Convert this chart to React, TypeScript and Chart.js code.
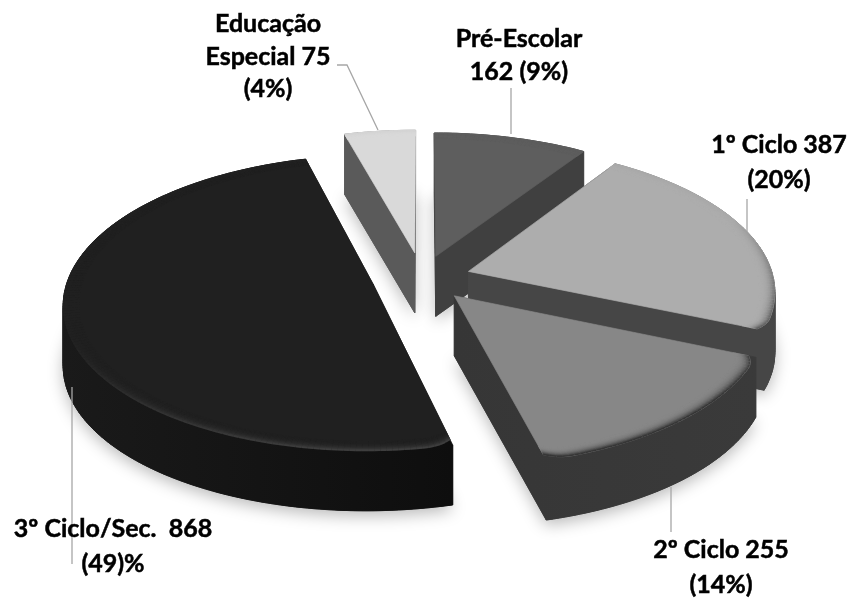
import React, { useEffect, useRef } from "react";
import { Chart, registerables } from "chart.js";

Chart.register(...registerables);

// Enrolment by teaching level
const categories = ["Pré-Escolar", "1º Ciclo", "2º Ciclo", "3º Ciclo/Sec.", "Educação Especial"];
const enrolment = [162, 387, 255, 868, 75];
const labelLines = [
  ["Pré-Escolar", "162 (9%)"],
  ["1º Ciclo 387", "(20%)"],
  ["2º Ciclo 255", "(14%)"],
  ["3º Ciclo/Sec.  868", "(49)%"],
  ["Educação", "Especial 75", "(4%)"],
];

// Slice styling
const topColors = ["#5e5e5e", "#adadad", "#878787", "#202020", "#d9d9d9"];
const wallLeft = ["#404040", "#464646", "#363636", "#1a1a1a", "#5a5a5a"];
const wallRight = ["#404040", "#464646", "#3a3a3a", "#0e0e0e", "#5a5a5a"];
const rimColors = ["#404040", "#505050", "#363636", "#3e3e3e", "#5a5a5a"];
const explosion = [0.16, 0.16, 0.16, 0.165, 0.18];

// Label placement: centre x, first baseline y, line spacing
const labelAnchors = [
  [519, 47, 33],
  [779, 153, 35],
  [721, 558, 35],
  [113, 537, 35],
  [268, 32, 32.5],
];
const leaders = [
  [[511, 88], [511, 134]],
  [[747, 199], [747, 231]],
  [[671, 487], [671, 532]],
  [[72, 387], [72, 564]],
  [[337, 65], [347, 65], [378, 130]],
];

// Tilted-disc projection
const X_STRETCH = 1.097;
const Y_SQUASH = 0.518;
const PERSPECTIVE = 0.126;
const DEPTH = 60;
const BEVEL = 0.05;
const BEVEL_STEPS = 12;
const CORNER_INSET = 0.028;
const CORNER_SPAN = 0.08;
const FONT = "bold 25px Lato";

type Pt = [number, number];

function hexToRgb(hex: string) {
  return [1, 3, 5].map((i) => parseInt(hex.slice(i, i + 2), 16));
}
function mix(a: string, b: string, t: number) {
  const ca = hexToRgb(a);
  const cb = hexToRgb(b);
  const c = ca.map((v, i) => Math.round(v + (cb[i] - v) * t));
  return `rgb(${c[0]},${c[1]},${c[2]})`;
}
// How much a rim position faces the viewer, 0 to 1
const facing = (a: number) => Math.max(0.04, Math.min(1, 0.05 + Math.sin(a) + 0.4 * Math.cos(a)));

const pie3d = {
  id: "pie3d",
  beforeDatasetDraw(chart: any) {
    const ctx: CanvasRenderingContext2D = chart.ctx;
    const arcs: any[] = chart.getDatasetMeta(0).data;
    const project = (arc: any, i: number, angle: number, r: number): Pt => {
      const mid = (arc.startAngle + arc.endAngle) / 2;
      const u = Math.cos(mid) * explosion[i] + Math.cos(angle) * r;
      const v = Math.sin(mid) * explosion[i] + Math.sin(angle) * r;
      const w = 1 / (1 - PERSPECTIVE * v);
      const R = arc.outerRadius;
      return [arc.x + R * X_STRETCH * u * w, arc.y + R * Y_SQUASH * v * w];
    };
    const rimAngles = (arc: any) => {
      const n = Math.max(2, Math.ceil(((arc.endAngle - arc.startAngle) * 180) / Math.PI));
      return Array.from({ length: n + 1 }, (_, k) => arc.startAngle + ((arc.endAngle - arc.startAngle) * k) / n);
    };
    // The top face pulls in at the rim's ends, rounding its corners over the wall
    const topRadius = (arc: any, a: number) => {
      const d = Math.min(a - arc.startAngle, arc.endAngle - a);
      const t = Math.max(0, 1 - d / CORNER_SPAN);
      return 1 - CORNER_INSET * t * t * facing(a);
    };
    const outline = (arc: any, i: number): Pt[] => [
      project(arc, i, 0, 0),
      ...rimAngles(arc).map((a) => project(arc, i, a, 1)),
    ];
    const topFace = (arc: any, i: number): Pt[] => [
      project(arc, i, 0, 0),
      ...rimAngles(arc).map((a) => project(arc, i, a, topRadius(arc, a))),
    ];
    const fillPoly = (pts: Pt[], style: any, edge = true) => {
      ctx.beginPath();
      pts.forEach((p, k) => (k ? ctx.lineTo(p[0], p[1]) : ctx.moveTo(p[0], p[1])));
      ctx.closePath();
      ctx.fillStyle = style;
      ctx.fill();
      if (edge) {
        ctx.strokeStyle = style;
        ctx.lineWidth = 0.7;
        ctx.stroke();
      }
    };
    const lowered = (pts: Pt[]): Pt[] => pts.map((p) => [p[0], p[1] + DEPTH]);

    ctx.save();
    ctx.lineJoin = "round";

    // Soft ground shadow beneath the whole exploded pie
    ctx.save();
    ctx.shadowColor = "rgba(0,0,0,0.28)";
    ctx.shadowBlur = 16;
    ctx.shadowOffsetY = 5;
    arcs.forEach((arc, i) => fillPoly(lowered(outline(arc, i)), "#888888", false));
    ctx.restore();

    // Paint slices from the far side to the near side
    const order = arcs
      .map((arc, i) => ({ arc, i, depth: Math.sin((arc.startAngle + arc.endAngle) / 2) }))
      .sort((a, b) => a.depth - b.depth);

    order.forEach(({ arc, i }) => {
      const rim = outline(arc, i);
      const xs = rim.map((p) => p[0]);
      const grad = ctx.createLinearGradient(Math.min(...xs), 0, Math.max(...xs), 0);
      grad.addColorStop(0, wallLeft[i]);
      grad.addColorStop(1, wallRight[i]);

      // Extruded walls
      fillPoly(lowered(rim), grad);
      rim.forEach((p, k) => {
        const q = rim[(k + 1) % rim.length];
        fillPoly([p, q, [q[0], q[1] + DEPTH], [p[0], p[1] + DEPTH]], grad);
      });

      // Top face
      fillPoly(topFace(arc, i), topColors[i]);

      // Bevelled rim, strongest on the side facing the viewer
      const angles = rimAngles(arc);
      for (let j = BEVEL_STEPS - 1; j >= 0; j--) {
        const r = -(BEVEL * (j + 0.5)) / BEVEL_STEPS;
        const fade = 1 - j / BEVEL_STEPS;
        for (let k = 0; k < angles.length - 1; k++) {
          const a = (angles[k] + angles[k + 1]) / 2;
          const p = project(arc, i, angles[k], topRadius(arc, angles[k]) + r);
          const q = project(arc, i, angles[k + 1], topRadius(arc, angles[k + 1]) + r);
          ctx.beginPath();
          ctx.moveTo(p[0], p[1]);
          ctx.lineTo(q[0], q[1]);
          ctx.strokeStyle = mix(topColors[i], rimColors[i], facing(a) * fade * fade * fade);
          ctx.lineWidth = 1.6;
          ctx.stroke();
        }
      }
    });
    ctx.restore();
    return false;
  },
  afterDraw(chart: any) {
    const ctx: CanvasRenderingContext2D = chart.ctx;
    ctx.save();
    // Leader lines
    ctx.strokeStyle = "#a6a6a6";
    ctx.lineWidth = 1.3;
    leaders.forEach((line) => {
      ctx.beginPath();
      line.forEach((p, k) => (k ? ctx.lineTo(p[0], p[1]) : ctx.moveTo(p[0], p[1])));
      ctx.stroke();
    });
    // Value labels, with a hairline outline to thicken the bold weight
    ctx.fillStyle = "#000000";
    ctx.strokeStyle = "#000000";
    ctx.lineWidth = 0.5;
    ctx.font = FONT;
    ctx.textAlign = "center";
    ctx.textBaseline = "alphabetic";
    labelLines.forEach((lines, i) => {
      const [x, y, spacing] = labelAnchors[i];
      lines.forEach((text, k) => {
        ctx.fillText(text, x, y + k * spacing);
        ctx.strokeText(text, x, y + k * spacing);
      });
    });
    ctx.restore();
  },
};

export default function App() {
  const ref = useRef<HTMLCanvasElement>(null);
  useEffect(() => {
    const chart = new Chart(ref.current as HTMLCanvasElement, {
      type: "pie",
      data: {
        labels: categories,
        datasets: [{ data: enrolment, backgroundColor: topColors, borderWidth: 0 }],
      },
      options: {
        animation: false,
        responsive: false,
        layout: { padding: { left: 0, top: 0, right: 7, bottom: 44 } },
        plugins: { legend: { display: false }, tooltip: { enabled: false } },
      },
      plugins: [pie3d],
    } as any);
    return () => chart.destroy();
  }, []);
  return (
    <div style={{ position: "fixed", left: 0, top: 0, width: 851, height: 600, background: "#ffffff" }}>
      <canvas ref={ref} width={851} height={600} style={{ display: "block" }} />
    </div>
  );
}
